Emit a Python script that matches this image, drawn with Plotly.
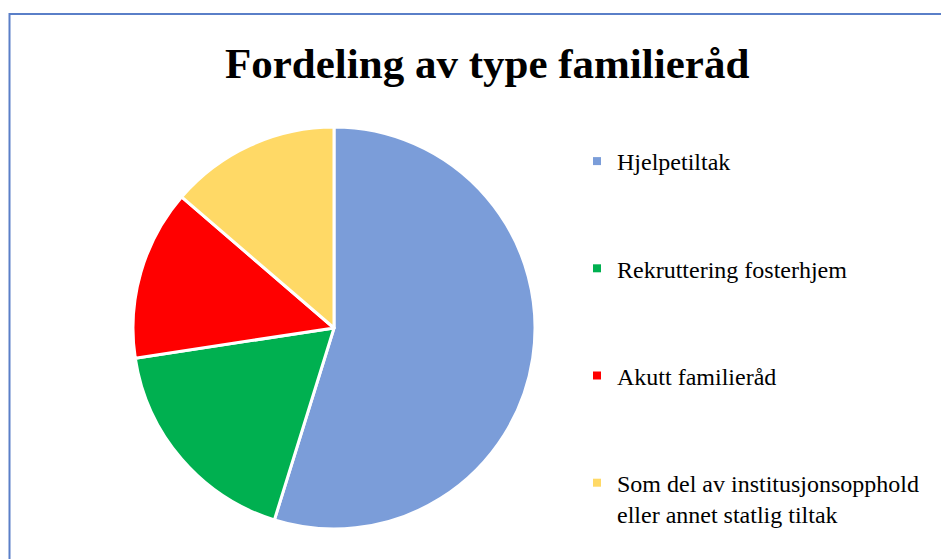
import plotly.graph_objects as go

W, H = 949, 559
OFF = 8  # page body margin

categories = ["Hjelpetiltak", "Rekruttering fosterhjem", "Akutt familieråd",
              "Som del av institusjonsopphold<br>eller annet statlig tiltak"]
values = [40, 13, 10, 10]
colors = ["#7B9DD9", "#00B050", "#FF0000", "#FFD966"]
title_text = "Fordeling av type familieråd"


def px(x):
    return (x - OFF) / W


def py(y):
    return 1 - (y - OFF) / H


fig = go.Figure()
fig.add_trace(go.Pie(
    labels=categories, values=values, sort=False, direction="clockwise", rotation=0,
    marker=dict(colors=colors, line=dict(color="white", width=3)),
    textinfo="none", hoverinfo="label+value", showlegend=False,
    domain=dict(x=[px(133), px(535)], y=[py(529), py(127)]),
))
for i, (c, col) in enumerate(zip(categories, colors)):
    fig.add_trace(go.Scatter(
        x=[None], y=[None], mode="markers", name=c, legendgroup=f"g{i}",
        marker=dict(symbol="square", size=8, color=col),
    ))

fig.update_layout(
    width=W, height=H,
    margin=dict(l=0, r=0, t=0, b=0),
    paper_bgcolor="white", plot_bgcolor="white",
    xaxis=dict(visible=False), yaxis=dict(visible=False),
    font=dict(family="Liberation Serif, Times New Roman, serif", color="#000000"),
    legend=dict(x=px(577), y=py(139), xanchor="left", yanchor="top",
                font=dict(size=24, family="Liberation Serif", color="#000000"),
                tracegroupgap=73, valign="top", bgcolor="rgba(0,0,0,0)"),
    annotations=[dict(text="<b>" + title_text + "</b>", x=px(487), y=py(64),
                      xref="paper", yref="paper", xanchor="center", yanchor="middle",
                      showarrow=False,
                      font=dict(size=43, family="Liberation Serif", color="#000000"))],
    shapes=[dict(type="rect", xref="paper", yref="paper",
                 x0=px(9.5), x1=1.05, y0=-0.05, y1=py(14),
                 line=dict(color="#5A7FC8", width=2), fillcolor="rgba(0,0,0,0)", layer="below")],
)

fig.write_html("out.html")
